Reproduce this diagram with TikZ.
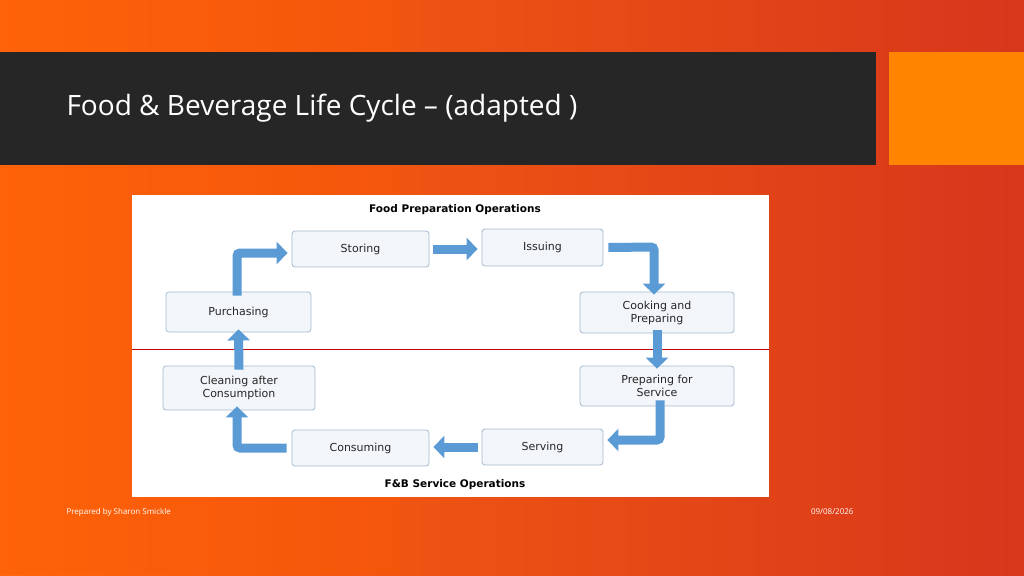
\documentclass[tikz,border=0pt]{standalone}
\usepackage{fontspec}
\setmainfont{Open Sans}
\newfontfamily\boxfont{DejaVu Sans}
\usetikzlibrary{arrows.meta}
\definecolor{arrblue}{HTML}{5B9BD5}
\definecolor{boxfill}{HTML}{F2F5F9}
\definecolor{boxdraw}{HTML}{A7BBD0}
\begin{document}
\begin{tikzpicture}[x=1pt,y=-1pt,
  box/.style={draw=boxdraw,fill=boxfill,rounded corners=3pt,line width=0.8pt,align=center,font=\boxfont\fontsize{11}{13}\selectfont,text=black!85,inner sep=0pt},
  flow/.style={draw=arrblue,line width=9pt,-{Triangle[width=22pt,length=11pt]}}]
\shade[left color=orange!75!red!95!white,right color=red!55!brown!95!black] (0,0) rectangle (1024,575);
\fill[orange!70!red,opacity=0.3] (0,0) rectangle (400,575);
\fill[black!85] (0,52) rectangle (876,165);
\fill[orange!85!yellow!90!red] (889,52) rectangle (1024,165);
\node[anchor=west,text=white,font=\fontsize{28}{32}\selectfont] (title) at (63,108) {Food \& Beverage Life Cycle – (adapted )};
\fill[white] (132,195) rectangle (769,497);
\node[font=\boxfont\bfseries\fontsize{10.5}{12}\selectfont] (h1) at (455,210) {Food Preparation Operations};
\node[font=\boxfont\bfseries\fontsize{10.5}{12}\selectfont] (h2) at (455,485) {F\&B Service Operations};
\node[box,minimum width=137pt,minimum height=36pt] (st) at (360.5,249) {Storing};
\node[box,minimum width=121pt,minimum height=37pt] (is) at (542.5,247.5) {Issuing};
\node[box,minimum width=154pt,minimum height=41pt] (co) at (657,312.5) {Cooking and\\Preparing};
\node[box,minimum width=154pt,minimum height=40pt] (pf) at (657,386) {Preparing for\\Service};
\node[box,minimum width=121pt,minimum height=36pt] (se) at (542.5,447) {Serving};
\node[box,minimum width=137pt,minimum height=36pt] (cn) at (360.5,448) {Consuming};
\node[box,minimum width=152pt,minimum height=44pt] (cl) at (239,388) {Cleaning after\\Consumption};
\node[box,minimum width=145pt,minimum height=40pt] (pu) at (238.5,312) {Purchasing};
\draw[red!75!black,line width=0.8pt] (132,349) -- (769,349);
\coordinate (c1) at (654,247);
\coordinate (c2) at (660,440);
\coordinate (c3) at (237,448);
\coordinate (c4) at (237,253);
\draw[flow] ([xshift=4pt]st.east) -- ([xshift=-4pt]st.east-|is.west);
\draw[flow,rounded corners=3pt] ([xshift=5pt]is.east) -- (c1) -- ([yshift=-3pt]co.north-|c1);
\draw[flow] ([yshift=3pt]co.south) -- ([yshift=-3pt]pf.north);
\draw[flow,rounded corners=3pt] ([yshift=6pt]pf.south-|c2) -- (c2) -- ([xshift=4pt]c2-|se.east);
\draw[flow] ([xshift=-4pt]se.west) -- ([xshift=4pt]se.west-|cn.east);
\draw[flow,rounded corners=3pt] ([xshift=-5pt]cn.west) -- (c3) -- ([yshift=4pt]cl.south-|c3);
\draw[flow] ([yshift=-4pt]cl.north) -- ([yshift=3pt]pu.south);
\draw[flow,rounded corners=3pt] ([yshift=-4pt]pu.north-|c4) -- (c4) -- ([xshift=-4pt]c4-|st.west);
\node[anchor=west,text=white,font=\fontsize{8}{10}\selectfont] (f1) at (63,512) {Prepared by Sharon Smickle};
\node[anchor=east,text=white,font=\fontsize{8}{10}\selectfont] (f2) at (857,512) {09/08/2026};
\end{tikzpicture}
\end{document}
